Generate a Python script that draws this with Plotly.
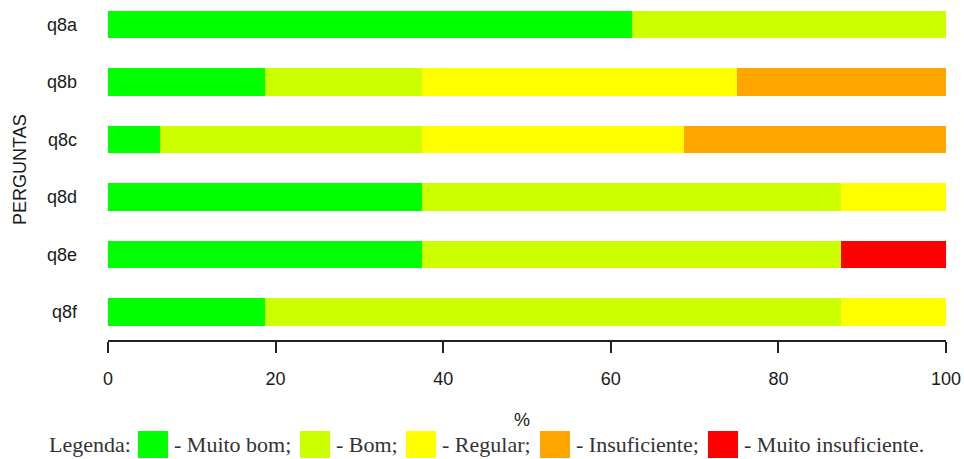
import plotly.graph_objects as go

perguntas = ["q8a", "q8b", "q8c", "q8d", "q8e", "q8f"]
muito_bom = [62.5, 18.75, 6.25, 37.5, 37.5, 18.75]
bom = [37.5, 18.75, 31.25, 50.0, 50.0, 68.75]
regular = [0, 37.5, 31.25, 12.5, 0, 12.5]
insuficiente = [0, 25.0, 31.25, 0, 0, 0]
muito_insuf = [0, 0, 0, 0, 12.5, 0]

series = [
    ("Muito bom", muito_bom, "#00FF00"),
    ("Bom", bom, "#CCFF00"),
    ("Regular", regular, "#FFFF00"),
    ("Insuficiente", insuficiente, "#FFA500"),
    ("Muito insuficiente", muito_insuf, "#FF0000"),
]
x_ticks = [0, 20, 40, 60, 80, 100]

fig = go.Figure()
for name, vals, col in series:
    fig.add_trace(go.Bar(
        y=perguntas, x=vals, name=name, orientation="h",
        marker=dict(color=col, line=dict(width=0)),
        width=0.47, showlegend=False,
    ))

W, H = 964, 459
SL, SR, ST, SB = 108, 946, 0, 340
L, R, T, B = SL, SR, ST, SB

fig.update_layout(
    width=W, height=H, barmode="stack",
    margin=dict(l=L, r=W - R, t=T, b=H - B, pad=0),
    plot_bgcolor="white", paper_bgcolor="white",
    font=dict(family="Liberation Sans, Arial, sans-serif", size=18, color="#1a1a1a"),
    bargap=0,
)
fig.update_xaxes(
    range=[0, 100], tickvals=x_ticks, showgrid=False, zeroline=False,
    showline=True, linecolor="#222", linewidth=1.5,
    ticks="outside", ticklen=11, tickwidth=1.5, tickcolor="#222",
    ticklabelstandoff=11, fixedrange=True,
)
top_c, bot_c, step = 24.5, 312.0, 57.5
fig.update_yaxes(
    categoryorder="array", categoryarray=perguntas,
    range=[5 + (SB - bot_c) / step, -(top_c - ST) / step],
    showgrid=False, zeroline=False, showline=False,
    ticks="", ticklabelstandoff=30, fixedrange=True,
)

def px2x(px):
    return (px - SL) / (SR - SL)

def py2y(py):
    return (SB - py) / (SB - ST)

fig.add_annotation(text="PERGUNTAS", x=px2x(20), y=py2y(170), xref="paper", yref="paper",
                   textangle=-90, showarrow=False, xanchor="center", yanchor="middle",
                   font=dict(size=18, color="#1a1a1a"))
fig.add_annotation(text="%", x=px2x(522), y=py2y(420), xref="paper", yref="paper",
                   showarrow=False, xanchor="center", yanchor="middle",
                   font=dict(size=18, color="#1a1a1a"))

serif = dict(family="Liberation Serif, Times New Roman, serif", size=22, color="#333")
legend_y = py2y(444)
fig.add_annotation(text="Legenda:", x=px2x(47), y=legend_y, xref="paper", yref="paper",
                   showarrow=False, xanchor="left", yanchor="middle", font=serif)
sq = [(138, "- Muito bom;"), (300, "- Bom;"), (406, "- Regular;"), (540, "- Insuficiente;"), (708, "- Muito insuficiente.")]
for (x0, label), (_, _, col) in zip(sq, series):
    fig.add_shape(type="rect", xref="paper", yref="paper",
                  x0=px2x(x0), x1=px2x(x0 + 30), y0=py2y(458), y1=py2y(431),
                  fillcolor=col, line=dict(width=0))
    fig.add_annotation(text=label, x=px2x(x0 + 34), y=legend_y, xref="paper", yref="paper",
                       showarrow=False, xanchor="left", yanchor="middle", font=serif)

fig.write_html("out.html", config={"displayModeBar": False},
               post_script="document.body.style.margin='0';document.body.style.overflow='hidden';")
